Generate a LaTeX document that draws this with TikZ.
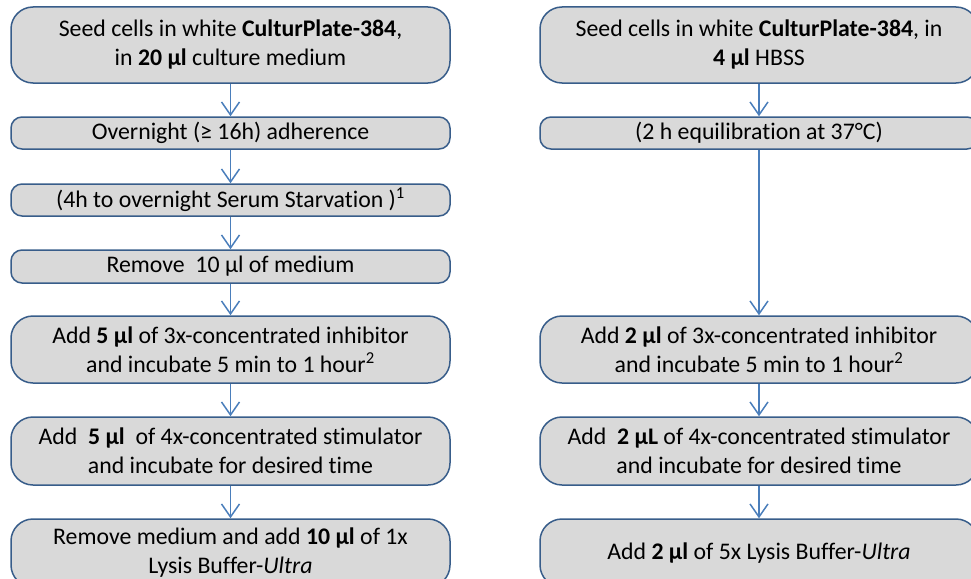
\documentclass[tikz,border=0pt]{standalone}
\usepackage{fontspec}
\setmainfont{Carlito}[Ligatures=NoCommon]
\usetikzlibrary{arrows.meta}
\definecolor{boxfill}{HTML}{D9D9D9}
\definecolor{boxline}{HTML}{385D8A}
\definecolor{arrowblue}{HTML}{4A7EBB}

\begin{document}
\begin{tikzpicture}[x=1pt,y=-1pt,
    stepbox/.style={draw=boxline,fill=boxfill,line width=1.5pt,align=center,
        inner sep=0pt,font=\fontsize{23.8}{29}\selectfont},
    tallbox/.style={stepbox,minimum height=68pt,rounded corners=22pt},
    shortbox/.style={stepbox,minimum height=32pt,rounded corners=11pt},
    lcol/.style={minimum width=439pt},
    rcol/.style={minimum width=438pt},
    flow/.style={draw=arrowblue,line width=1.5pt,-{Straight Barb[length=13pt,width=18pt]}}]
    \useasboundingbox (0,0) rectangle (971,578);
    % left column: adherent cells
    \node[tallbox,lcol,minimum height=76pt] (l1) at (230.5,45)
        {Seed cells in white \textbf{CulturPlate-384},\\in \textbf{20 µl} culture medium};
    \node[shortbox,lcol] (l2) at (230.5,133) {Overnight (≥ 16h) adherence};
    \node[shortbox,lcol] (l3) at (230.5,200) {(4h to overnight Serum Starvation )\textsuperscript{1}};
    \node[shortbox,lcol,minimum height=33pt] (l4) at (230.5,266.5) {Remove\ \ 10 µl of medium};
    \node[tallbox,lcol,minimum height=67pt] (l5) at (230.5,349.5)
        {Add \textbf{5 µl} of 3x-concentrated inhibitor\\and incubate 5 min to 1 hour\textsuperscript{2}};
    \node[tallbox,lcol] (l6) at (230.5,451)
        {Add\ \ \textbf{5 µl}\ \ of 4x-concentrated stimulator\\and incubate for desired time};
    \node[tallbox,lcol] (l7) at (230.5,553)
        {Remove medium and add \textbf{10 µl} of 1x\\Lysis Buffer-\textit{Ultra}};
    % right column: suspension cells
    \node[tallbox,rcol,minimum height=76pt] (r1) at (759,45)
        {Seed cells in white \textbf{CulturPlate-384}, in\\\textbf{4 µl} HBSS};
    \node[shortbox,rcol] (r2) at (759,133) {(2 h equilibration at 37°C)};
    \node[tallbox,rcol,minimum height=67pt] (r3) at (759,349.5)
        {Add \textbf{2 µl} of 3x-concentrated inhibitor\\and incubate 5 min to 1 hour\textsuperscript{2}};
    \node[tallbox,rcol] (r4) at (759,451)
        {Add\ \ \textbf{2 µL} of 4x-concentrated stimulator\\and incubate for desired time};
    \node[tallbox,rcol] (r5) at (759,553)
        {Add \textbf{2 µl} of 5x Lysis Buffer-\textit{Ultra}};
    % arrows
    \foreach \a/\b in {l1/l2,l2/l3,l3/l4,l4/l5,l5/l6,l6/l7,r1/r2,r2/r3,r3/r4,r4/r5}
        \draw[flow] (\a.south) -- (\b.north);
\end{tikzpicture}
\end{document}
